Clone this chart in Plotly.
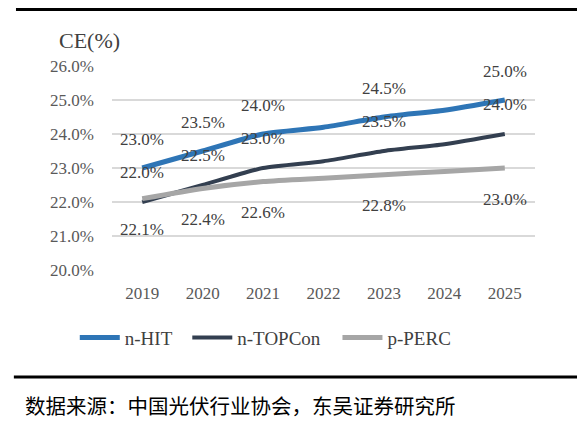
import plotly.graph_objects as go

# données
years = ["2019", "2020", "2021", "2022", "2023", "2024", "2025"]
hit = [23.0, 23.5, 24.0, 24.2, 24.5, 24.7, 25.0]
topcon = [22.0, 22.5, 23.0, 23.2, 23.5, 23.7, 24.0]
perc = [22.1, 22.4, 22.6, 22.7, 22.8, 22.9, 23.0]
# années étiquetées
label_years = ["2019", "2020", "2021", "2023", "2025"]

serif = "Liberation Serif"
grey_txt = "#404040"

# nom, valeurs, couleur, épaisseur, décalage étiquette, légende, x légende
series = [
    ("n-HIT", hit, "#2E75B6", 5, 29, "legend", -0.088),
    ("n-TOPCon", topcon, "#333F50", 4, 30, "legend2", 0.178),
    ("p-PERC", perc, "#A6A6A6", 5, -31, "legend3", 0.533),
]

fig = go.Figure()
annotations = []
legends = {}
for name, vals, color, w, shift, leg, lx in series:
    fig.add_trace(go.Scatter(
        x=years, y=vals, name=name, mode="lines", legend=leg,
        line=dict(color=color, width=w, shape="spline", smoothing=0.6),
    ))
    legends[leg] = dict(
        orientation="h", x=lx, y=-0.332, xanchor="left", yanchor="middle",
        font=dict(family=serif, size=19, color=grey_txt),
        itemwidth=40, bgcolor="rgba(0,0,0,0)",
    )
    for i, (yr, v) in enumerate(zip(years, vals)):
        if yr in label_years:
            # axe catégoriel : position par index
            annotations.append(dict(
                x=i, y=v, xref="x", yref="y", text=f"{v:.1f}%",
                showarrow=False, yshift=shift,
                font=dict(family=serif, size=17, color=grey_txt),
            ))

annotations.append(dict(
    x=-0.13, y=1.127, xref="paper", yref="paper", text="CE(%)",
    showarrow=False, xanchor="left", yanchor="middle",
    font=dict(family=serif, size=22, color=grey_txt),
))
annotations.append(dict(
    x=-0.21, y=-0.662, xref="paper", yref="paper",
    text="数据来源：中国光伏行业协会，东吴证券研究所",
    showarrow=False, xanchor="left", yanchor="middle",
    font=dict(family="Noto Sans CJK SC", size=20.5, color="#000000"),
))

fig.update_layout(
    width=585, height=428,
    margin=dict(l=104, r=58, t=58, b=166),
    paper_bgcolor="white", plot_bgcolor="white",
    annotations=annotations,
    showlegend=True,
    **legends,
    shapes=[
        dict(type="line", xref="paper", yref="paper", x0=-0.227, x1=1.15,
             y0=1.277, y1=1.277, line=dict(color="black", width=3)),
        dict(type="line", xref="paper", yref="paper", x0=-0.232, x1=1.15,
             y0=-0.5245, y1=-0.5245, line=dict(color="black", width=3)),
    ],
)
fig.update_xaxes(
    type="category", range=[-0.5, 6.5], showgrid=False, showline=False,
    ticks="", ticklabelstandoff=11,
    tickfont=dict(family=serif, size=17, color="#595959"),
)
fig.update_yaxes(
    range=[20, 26], dtick=1, tickformat=".1f", ticksuffix="%",
    showgrid=True, gridcolor="#D9D9D9", gridwidth=2, zeroline=False,
    showline=False, ticks="", ticklabelstandoff=17,
    tickfont=dict(family=serif, size=17, color="#595959"),
)

fig.write_html("out.html")
